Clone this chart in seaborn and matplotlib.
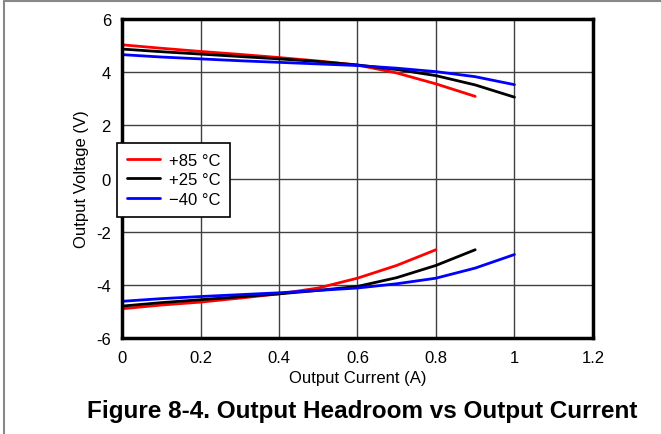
import matplotlib
matplotlib.use('Agg')
import matplotlib.pyplot as plt
from matplotlib.lines import Line2D
import seaborn as sns

# output current (A) and output voltage (V)
cur_85 = [0, 0.1, 0.2, 0.3, 0.4, 0.5, 0.6, 0.7, 0.8, 0.9]
hi_85 = [5.03, 4.90, 4.78, 4.67, 4.55, 4.42, 4.27, 3.97, 3.56, 3.09]
cur_85_lo = [0, 0.1, 0.2, 0.3, 0.4, 0.5, 0.6, 0.7, 0.8]
lo_85 = [-4.90, -4.76, -4.65, -4.50, -4.34, -4.12, -3.75, -3.27, -2.68]

cur_25 = [0, 0.1, 0.2, 0.3, 0.4, 0.5, 0.6, 0.7, 0.8, 0.9, 1.0]
hi_25 = [4.87, 4.77, 4.68, 4.59, 4.50, 4.40, 4.27, 4.10, 3.87, 3.52, 3.06]
cur_25_lo = [0, 0.1, 0.2, 0.3, 0.4, 0.5, 0.6, 0.7, 0.8, 0.9]
lo_25 = [-4.80, -4.67, -4.56, -4.45, -4.34, -4.21, -4.06, -3.73, -3.27, -2.68]

cur_m40 = [0, 0.1, 0.2, 0.3, 0.4, 0.5, 0.6, 0.7, 0.8, 0.9, 1.0]
hi_m40 = [4.66, 4.57, 4.50, 4.43, 4.37, 4.31, 4.25, 4.15, 4.02, 3.83, 3.53]
lo_m40 = [-4.62, -4.52, -4.44, -4.37, -4.30, -4.21, -4.12, -3.96, -3.75, -3.37, -2.86]

labels = ['+85 \u00b0C', '+25 \u00b0C', '\u221240 \u00b0C']
colors = ['#ff0000', '#000000', '#0000ff']

sns.set_style('white')
plt.rcParams['font.family'] = ['Liberation Sans', 'DejaVu Sans']
plt.rcParams['text.color'] = 'black'
plt.rcParams['axes.labelcolor'] = 'black'
plt.rcParams['xtick.color'] = 'black'
plt.rcParams['ytick.color'] = 'black'

fig = plt.figure(figsize=(6.61, 4.35), dpi=100)
ax = fig.add_axes([0.1846, 0.2207, 0.7124, 0.7333])

series = [
    (cur_85, hi_85, cur_85_lo, lo_85),
    (cur_25, hi_25, cur_25_lo, lo_25),
    (cur_m40, hi_m40, cur_m40, lo_m40),
]
for (xh, yh, xl, yl), lab, c in zip(series, labels, colors):
    sns.lineplot(x=xh, y=yh, ax=ax, color=c, lw=2, label=lab)
    sns.lineplot(x=xl, y=yl, ax=ax, color=c, lw=2)

ax.set_xlim(0, 1.2)
ax.set_ylim(-6, 6)
ax.set_xticks([0, 0.2, 0.4, 0.6, 0.8, 1.0, 1.2])
ax.set_xticklabels(['0', '0.2', '0.4', '0.6', '0.8', '1', '1.2'])
ax.set_yticks([-6, -4, -2, 0, 2, 4, 6])
ax.set_yticklabels(['-6', '-4', '-2', '0', '2', '4', '6'])
ax.grid(True, color='#404040', lw=1)
ax.tick_params(labelsize=12, length=0)
ax.tick_params(axis='x', pad=9)
ax.tick_params(axis='y', pad=8)
for s in ax.spines.values():
    s.set_visible(True)
    s.set_color('black')
    s.set_linewidth(2.5)
ax.set_xlabel('Output Current (A)', fontsize=12, labelpad=3)
ax.set_ylabel('Output Voltage (V)', fontsize=12, labelpad=5)

leg = ax.legend(loc='upper left', bbox_to_anchor=(-0.011, 0.612), fontsize=12,
                frameon=True, fancybox=False, handlelength=2.0,
                borderpad=0.6, borderaxespad=0, labelspacing=0.27,
                handletextpad=0.5)
leg.get_frame().set_edgecolor('black')
leg.get_frame().set_linewidth(1.2)
leg.get_frame().set_alpha(1)

fig.text(0.548, 0.053, 'Figure 8-4. Output Headroom vs Output Current',
         ha='center', va='center', fontsize=17.5, fontweight='bold')

# grey frame along top and left edges
fig.add_artist(Line2D([0.006, 0.006], [0, 0.995], color='#888888', lw=1.5,
                      transform=fig.transFigure))
fig.add_artist(Line2D([0.006, 1], [0.995, 0.995], color='#888888', lw=1.5,
                      transform=fig.transFigure))

fig.savefig('out.png', dpi=100)
